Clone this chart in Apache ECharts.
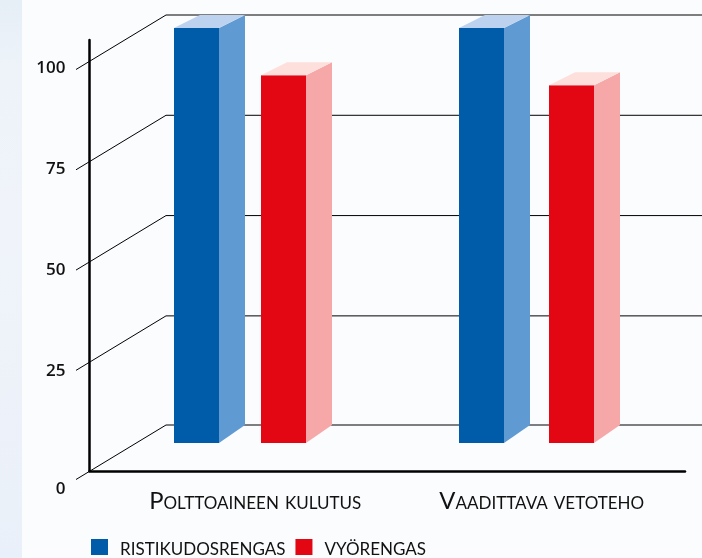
<!DOCTYPE html>
<html>
<head>
<meta charset="utf-8">
<style>
html, body { margin: 0; padding: 0; background: #fbfcfe; }
#main { width: 702px; height: 558px; }
</style>
<script src="https://cdn.jsdelivr.net/npm/echarts@6/dist/echarts.min.js"></script>
</head>
<body>
<div id="main"></div>
<script>
var categories = ['Polttoaineen kulutus', 'Vaadittava vetoteho'];
var seriesNames = ['ristikudosrengas', 'vyörengas'];
var ristikudosValues = [100, 100];
var vyoValues = [88.2, 85.7];
var tickValues = [0, 25, 50, 75, 100];
// the floor of the drawing sits a bit below the even 25 steps of the back wall
var floorValue = -2.2;

var barWidth = 45;
var depthX = 26;
var depthTop = 13;
var depthBottom = 18;

function drawBars(offsets, front, side, top) {
    return function (params, api) {
        var i = api.value(0);
        var p = api.coord([i, api.value(1)]);
        var b = api.coord([i, floorValue]);
        var x0 = p[0] + offsets[i];
        var x1 = x0 + barWidth;
        var topBack = p[1];
        var topFront = topBack + depthTop;
        var baseBack = b[1];
        var baseFront = baseBack + depthBottom;
        return {
            type: 'group',
            children: [
                { type: 'polygon', shape: { points: [[x0, topFront], [x1, topFront], [x1, baseFront], [x0, baseFront]] }, style: { fill: front } },
                { type: 'polygon', shape: { points: [[x1, topFront], [x1 + depthX, topBack], [x1 + depthX, baseBack], [x1, baseFront]] }, style: { fill: side } },
                { type: 'polygon', shape: { points: [[x0, topFront], [x0 + depthX, topBack], [x1 + depthX, topBack], [x1, topFront]] }, style: { fill: top } }
            ]
        };
    };
}

// back wall line plus the slanted piece going to the front of the axis
function drawWall(params, api) {
    var sys = params.coordSys;
    var v = api.value(0);
    var y = api.coord([0, v === 0 ? floorValue : v])[1];
    var wallX = sys.x + 54;
    return {
        type: 'polyline',
        shape: { points: [[sys.x - 36, y + 54.5], [wallX, y], [sys.x + sys.width + 17, y]] },
        style: { stroke: '#000', lineWidth: 1, fill: null }
    };
}

var option = {
    animation: false,
    backgroundColor: '#fbfcfe',
    textStyle: { fontFamily: 'Lato' },
    graphic: [{
        type: 'rect',
        z: -10,
        shape: { x: 0, y: 0, width: 22, height: 558 },
        style: {
            fill: {
                type: 'linear', x: 0, y: 0, x2: 0, y2: 1,
                colorStops: [
                    { offset: 0, color: '#e6eef6' },
                    { offset: 0.12, color: '#edf3f9' },
                    { offset: 0.4, color: '#f0f4fa' },
                    { offset: 1, color: '#eaf0f9' }
                ]
            }
        }
    }],
    legend: {
        left: 91,
        top: 535,
        padding: 0,
        itemWidth: 17,
        itemHeight: 16,
        itemGap: 10,
        icon: 'rect',
        data: seriesNames,
        textStyle: {
            fontFamily: 'Lato',
            fontStyle: 'small-caps',
            fontSize: 24,
            color: '#111',
            padding: [0, 0, 0, 7]
        }
    },
    grid: [
        // back wall, the bars stand in this one
        { left: 112, right: 17, top: 15, bottom: 133 },
        // front axes with the tick labels
        { left: 89.5, right: 17, top: 40, bottom: 87 }
    ],
    xAxis: [{
        type: 'category',
        gridIndex: 0,
        data: categories,
        axisLine: { show: false },
        axisTick: { show: false },
        axisLabel: {
            margin: 64,
            fontFamily: 'Lato',
            fontStyle: 'small-caps',
            fontSize: 23.8,
            color: '#111'
        }
    }, {
        type: 'category',
        gridIndex: 1,
        data: categories,
        axisLine: { lineStyle: { color: '#000', width: 2.5 } },
        axisTick: { show: false },
        axisLabel: { show: false }
    }],
    yAxis: [{
        type: 'value',
        gridIndex: 0,
        min: floorValue,
        max: 100,
        axisLine: { show: false },
        axisTick: { show: false },
        axisLabel: { show: false },
        splitLine: { show: false }
    }, {
        type: 'value',
        gridIndex: 1,
        min: 0,
        max: 106.7,
        axisLine: { show: true, lineStyle: { color: '#000', width: 2.5 } },
        axisTick: { show: false },
        splitLine: { show: false },
        axisLabel: {
            margin: 24,
            customValues: tickValues,
            fontFamily: 'Open Sans',
            fontWeight: 600,
            fontSize: 17,
            color: '#111',
            padding: [2, 0, 0, 0],
            formatter: function (v) { return v === 0 ? '{zero|0}' : String(v); },
            rich: {
                zero: { fontFamily: 'Open Sans', fontWeight: 600, fontSize: 17, color: '#111', padding: [34, 0, 0, 0] }
            }
        }
    }],
    series: [{
        type: 'custom',
        name: 'wall',
        xAxisIndex: 0,
        yAxisIndex: 0,
        z: 1,
        silent: true,
        renderItem: drawWall,
        encode: { y: 0 },
        data: tickValues.map(function (v) { return [v]; })
    }, {
        type: 'custom',
        name: seriesNames[0],
        xAxisIndex: 0,
        yAxisIndex: 0,
        z: 2,
        itemStyle: { color: '#005ca9' },
        renderItem: drawBars([-81.25, -82.75], '#005ca9', '#5f9ad3', '#bcd2ee'),
        encode: { x: 0, y: 1 },
        data: ristikudosValues.map(function (v, i) { return [i, v]; })
    }, {
        type: 'custom',
        name: seriesNames[1],
        xAxisIndex: 0,
        yAxisIndex: 0,
        z: 2,
        itemStyle: { color: '#e30613' },
        renderItem: drawBars([5.75, 7.25], '#e30613', '#f6a8a9', '#fde0dc'),
        encode: { x: 0, y: 1 },
        data: vyoValues.map(function (v, i) { return [i, v]; })
    }]
};

var chart = echarts.init(document.getElementById('main'));
chart.setOption(option);
</script>
</body>
</html>
